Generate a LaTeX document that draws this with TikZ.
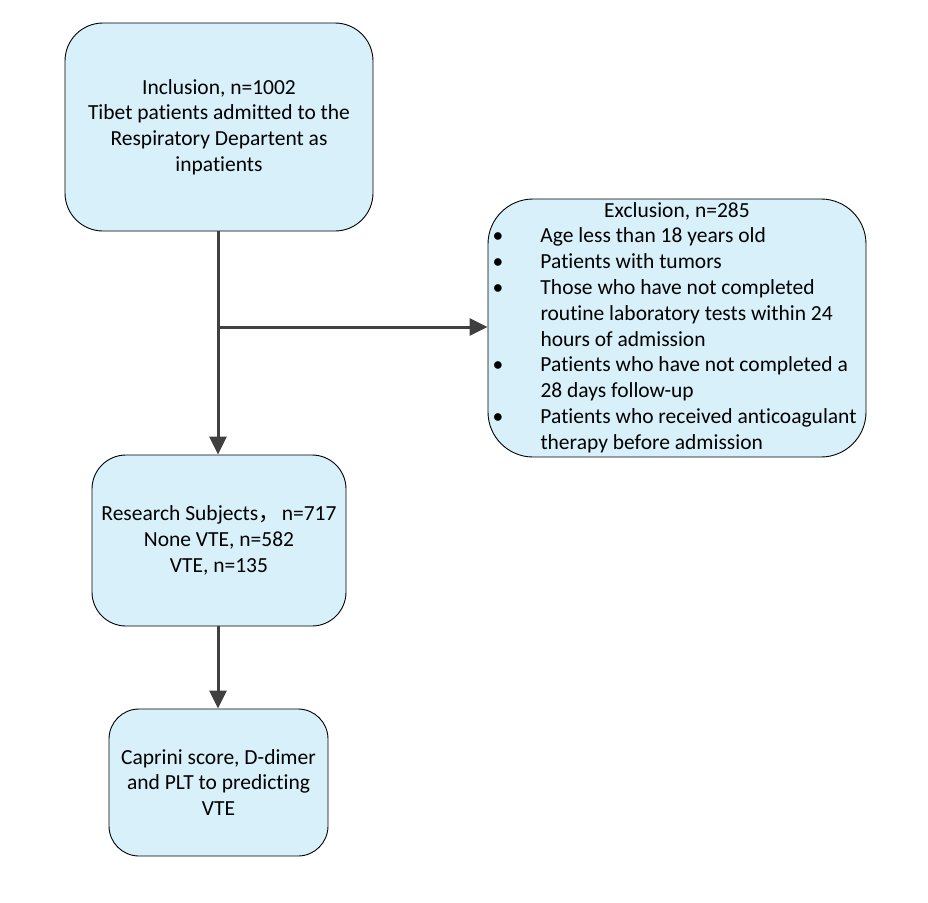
\documentclass[tikz,border=0pt]{standalone}
\usepackage{fontspec}
\setmainfont[Ligatures={NoCommon}]{Carlito}
\newfontfamily\cjk{Noto Sans CJK SC}
\usepackage{array}
\usetikzlibrary{arrows.meta,positioning}

\definecolor{boxblue}{RGB}{215,240,250}
\definecolor{linegrey}{RGB}{64,64,64}

\begin{document}
\begin{tikzpicture}[x=1pt, y=-1pt, >={Triangle[length=18pt,width=17pt]},
  box/.style={draw=black, line width=0.9pt, fill=boxblue, rounded corners=38pt,
    align=center, inner sep=0pt, font=\fontsize{21.5}{25.8}\selectfont},
  flow/.style={->, draw=linegrey, line width=3pt}]
  \useasboundingbox (0,0) rectangle (928,902);

  \node[box, minimum width=308pt, minimum height=208pt] (incl) at (219,127)
    {Inclusion, n=1002\\Tibet patients admitted to the\\Respiratory Departent as\\inpatients};
  \node[box, minimum width=378pt, minimum height=256pt, rounded corners=45pt] (excl) at (677,328)
    {\renewcommand{\arraystretch}{1}%
     \begin{tabular}{@{}p{48pt}@{}p{321pt}@{}}
     \multicolumn{2}{@{}c@{}}{Exclusion, n=285}\\
     \textbullet & Age less than 18 years old\\
     \textbullet & Patients with tumors\\
     \textbullet & Those who have not completed\\
                 & routine laboratory tests within 24\\
                 & hours of admission\\
     \textbullet & Patients who have not completed a\\
                 & 28 days follow-up\\
     \textbullet & Patients who received anticoagulant\\
                 & therapy before admission
     \end{tabular}};
  \node[box, minimum width=254pt, minimum height=171pt, rounded corners=34pt] (subj) at (219,540.5)
    {Research Subjects{\cjk ，}\hspace{2pt}n=717\\None VTE, n=582\\VTE, n=135};
  \node[box, minimum width=219pt, minimum height=147pt, rounded corners=30pt] (pred) at (218.5,782.5)
    {Caprini score, D-dimer\\and PLT to predicting\\VTE};

  \coordinate (split) at (218,327);
  \draw[flow] (incl.south -| split) -- (subj.north -| split);
  \draw[flow] (split) -- (split -| excl.west);
  \draw[flow] (subj.south -| split) -- (pred.north -| split);
\end{tikzpicture}
\end{document}
